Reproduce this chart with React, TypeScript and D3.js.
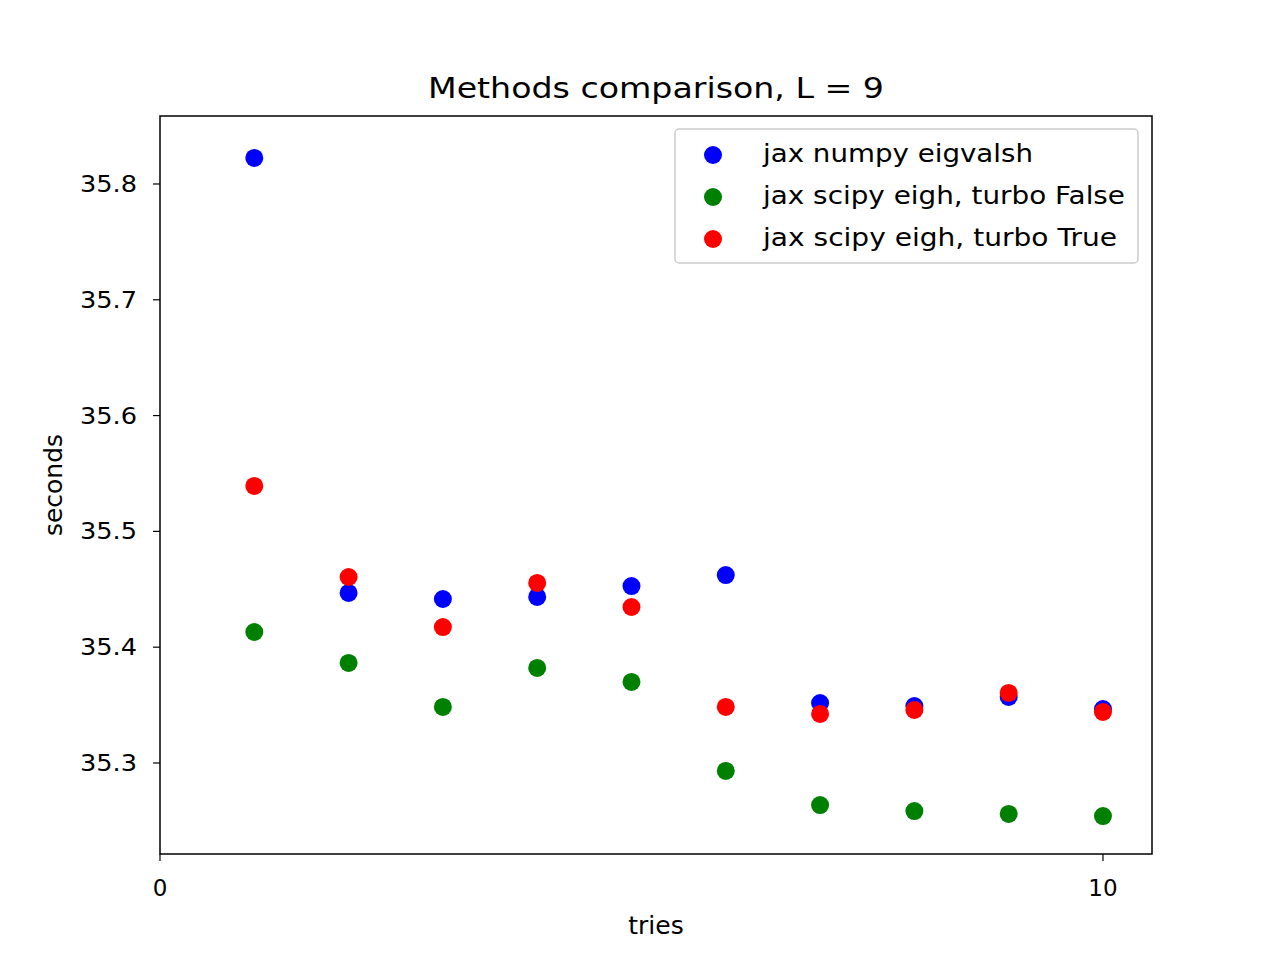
import * as d3 from 'd3';

const tries = [1, 2, 3, 4, 5, 6, 7, 8, 9, 10];
const numpyEig = [35.8225, 35.4468, 35.4416, 35.4434, 35.4528, 35.4623, 35.3518, 35.3492, 35.357, 35.3466];
const scipyFalse = [35.4131, 35.3864, 35.3484, 35.3821, 35.37, 35.2931, 35.2637, 35.2585, 35.256, 35.2542];
const scipyTrue = [35.5392, 35.4606, 35.4174, 35.4555, 35.4347, 35.3484, 35.3424, 35.3458, 35.3605, 35.3441];
const yTicks = [35.3, 35.4, 35.5, 35.6, 35.7, 35.8];
const xTicks = [0, 10];

const series = [
  { label: 'jax numpy eigvalsh', color: 'blue', values: numpyEig },
  { label: 'jax scipy eigh, turbo False', color: 'green', values: scipyFalse },
  { label: 'jax scipy eigh, turbo True', color: 'red', values: scipyTrue },
];

const W = 1280, H = 960;
const M = { left: 160, right: 1152, top: 116, bottom: 854 };
const FONT = 'DejaVu Sans, sans-serif';

export default function App() {
  const x = d3.scaleLinear().domain([0, 10.52]).range([M.left, M.right]);
  const y = d3.scaleLinear().domain([35.2214, 35.8587]).range([M.bottom, M.top]);
  return (
    <div style={{ position: 'fixed', left: 0, top: 0 }}>
      <svg width={W} height={H} style={{ background: 'white', display: 'block' }} fontFamily={FONT}>
        <text x={(M.left + M.right) / 2} y={98} textAnchor="middle" fontSize={28} textLength={456} lengthAdjust="spacingAndGlyphs">Methods comparison, L = 9</text>
        {series.map((s) => s.values.map((v, i) => (
          <circle key={s.label + i} cx={x(tries[i])} cy={y(v)} r={9} fill={s.color} />
        )))}
        <rect x={M.left} y={M.top} width={M.right - M.left} height={M.bottom - M.top} fill="none" stroke="black" strokeWidth={1.5} />
        {yTicks.map((t) => (
          <g key={t}>
            <line x1={M.left - 7} x2={M.left} y1={y(t)} y2={y(t)} stroke="black" strokeWidth={1.2} />
            <text x={M.left - 23} y={y(t)} dy="0.35em" textAnchor="end" fontSize={23} textLength={57} lengthAdjust="spacingAndGlyphs">{t.toFixed(1)}</text>
          </g>
        ))}
        {xTicks.map((t) => (
          <g key={t}>
            <line x1={x(t)} x2={x(t)} y1={M.bottom} y2={M.bottom + 7} stroke="black" strokeWidth={1.2} />
            <text x={x(t)} y={M.bottom + 42} textAnchor="middle" fontSize={23}>{t}</text>
          </g>
        ))}
        <text x={(M.left + M.right) / 2} y={934} textAnchor="middle" fontSize={25}>tries</text>
        <text transform={`translate(62,${(M.top + M.bottom) / 2}) rotate(-90)`} textAnchor="middle" fontSize={25}>seconds</text>
        <rect x={675} y={129} width={463} height={134} rx={4} fill="white" fillOpacity={0.8} stroke="#cccccc" strokeWidth={1.5} />
        {series.map((s, i) => {
          const len = [270, 362, 354][i];
          return (
            <g key={s.label}>
              <circle cx={713} cy={155 + i * 42} r={9} fill={s.color} />
              <text x={763} y={153 + i * 42} dy="0.35em" fontSize={25} textLength={len} lengthAdjust="spacingAndGlyphs">{s.label}</text>
            </g>
          );
        })}
      </svg>
    </div>
  );
}
